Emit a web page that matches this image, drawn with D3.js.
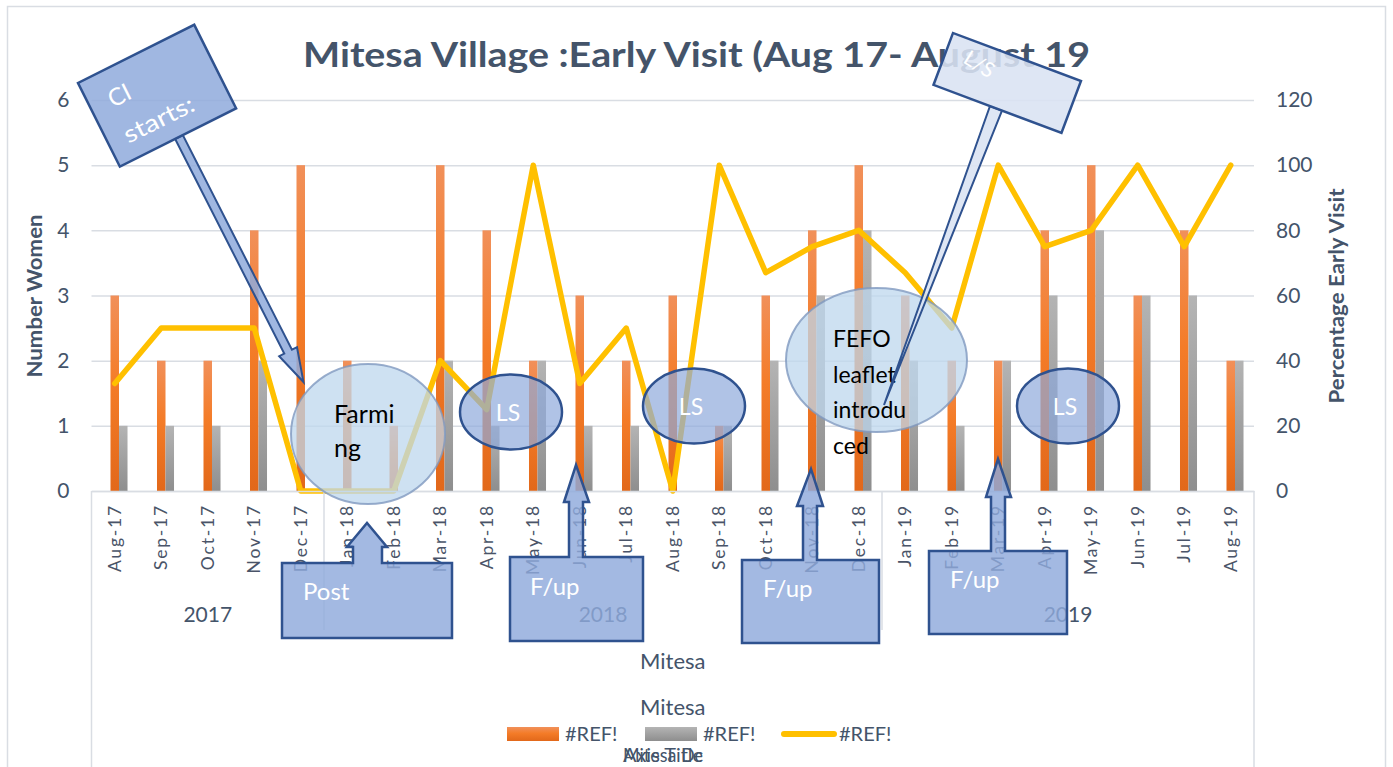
<!DOCTYPE html>
<html>
<head>
<meta charset="utf-8">
<script src="https://d3js.org/d3.v7.min.js"></script>
<style>
    body { margin: 0; background: #fff; }
    svg text { font-family: Lato, "Open Sans", sans-serif; }
</style>
</head>
<body>
<svg id="chart" width="1393" height="767"></svg>
<script>
    // chart values
    const months = ["Aug-17", "Sep-17", "Oct-17", "Nov-17", "Dec-17", "Jan-18", "Feb-18", "Mar-18", "Apr-18", "May-18", "Jun-18", "Jul-18", "Aug-18",
        "Sep-18", "Oct-18", "Nov-18", "Dec-18", "Jan-19", "Feb-19", "Mar-19", "Apr-19", "May-19", "Jun-19", "Jul-19", "Aug-19"];
    const orangeVals = [3, 2, 2, 4, 5, 2, 1, 5, 4, 2, 3, 2, 3, 1, 3, 4, 5, 3, 2, 2, 4, 5, 3, 4, 2];
    const grayVals = [1, 1, 1, 2, 0, 0, 0, 2, 1, 2, 1, 1, 0, 1, 2, 3, 4, 2, 1, 2, 3, 4, 3, 3, 2];
    const pctVals = [33, 50, 50, 50, 0, 0, 0, 40, 25, 100, 33, 50, 0, 100, 67, 75, 80, 67, 50, 100, 75, 80, 100, 75, 100];
    const leftTicks = [0, 1, 2, 3, 4, 5, 6];
    const rightTicks = [0, 20, 40, 60, 80, 100, 120];
    const yearLabels = ["2017", "2018", "2019"];
    const seriesNames = ["#REF!", "#REF!", "#REF!"];
    const groupLabels = ["Mitesa", "Mitesa"];

    const textCol = "#44546a";
    const gridCol = "#d9dde3";

    const svg = d3.select("#chart");
    const defs = svg.append("defs");

    // gradients for the columns
    const gO = defs.append("linearGradient").attr("id", "gOrange").attr("x1", 0).attr("y1", 0).attr("x2", 0).attr("y2", 1);
    gO.append("stop").attr("offset", "0%").attr("stop-color", "#f1905a");
    gO.append("stop").attr("offset", "45%").attr("stop-color", "#f47c28");
    gO.append("stop").attr("offset", "100%").attr("stop-color", "#e2681a");
    const gG = defs.append("linearGradient").attr("id", "gGray").attr("x1", 0).attr("y1", 0).attr("x2", 0).attr("y2", 1);
    gG.append("stop").attr("offset", "0%").attr("stop-color", "#b4b4b4");
    gG.append("stop").attr("offset", "100%").attr("stop-color", "#8e8e8e");

    // chart frame
    svg.append("rect").attr("x", 7.5).attr("y", 6.5).attr("width", 1378).attr("height", 800)
        .attr("fill", "#fff").attr("stroke", gridCol).attr("stroke-width", 1.5);

    const plotLeft = 91.5, plotRight = 1254, plotTop = 100, plotBottom = 491;

    const x = d3.scaleBand().domain(months).range([plotLeft, plotRight]);
    const yL = d3.scaleLinear().domain([0, 6]).range([plotBottom, plotTop]);
    const yR = d3.scaleLinear().domain([0, 120]).range([plotBottom, plotTop]);
    const bw = x.bandwidth();
    const barW = bw * 0.183;
    const cx = d => x(d) + bw / 2;

    // title
    svg.append("text").attr("x", 696.5).attr("y", 67).attr("text-anchor", "middle")
        .attr("font-size", 35).attr("font-weight", "bold").attr("fill", textCol)
        .attr("textLength", 787).attr("lengthAdjust", "spacingAndGlyphs")
        .text("Mitesa Village :Early Visit (Aug 17- August 19");

    // left axis + gridlines
    const axL = svg.append("g").attr("transform", "translate(" + plotLeft + ",0)")
        .call(d3.axisLeft(yL).tickValues(leftTicks).tickFormat(d3.format("d"))
            .tickSize(-(plotRight - plotLeft)).tickPadding(22));
    axL.select(".domain").remove();
    axL.selectAll("line").attr("stroke", gridCol).attr("stroke-width", 1.5);
    axL.selectAll("text").attr("font-size", 21).attr("fill", textCol).attr("font-family", "Lato");

    // right axis
    const axR = svg.append("g").attr("transform", "translate(" + plotRight + ",0)")
        .call(d3.axisRight(yR).tickValues(rightTicks).tickFormat(d3.format("d")).tickSize(0).tickPadding(22));
    axR.select(".domain").remove();
    axR.selectAll("text").attr("font-size", 21).attr("fill", textCol).attr("font-family", "Lato");

    // axis titles
    svg.append("text").attr("transform", "translate(42,296) rotate(-90)").attr("text-anchor", "middle")
        .attr("font-size", 20).attr("font-weight", "bold").attr("fill", textCol)
        .attr("textLength", 163).attr("lengthAdjust", "spacingAndGlyphs").text("Number Women");
    svg.append("text").attr("transform", "translate(1344,296) rotate(-90)").attr("text-anchor", "middle")
        .attr("font-size", 20).attr("font-weight", "bold").attr("fill", textCol)
        .attr("textLength", 215).attr("lengthAdjust", "spacingAndGlyphs").text("Percentage Early Visit");

    // columns
    svg.append("g").selectAll("rect").data(months).join("rect")
        .attr("x", d => cx(d) - barW / 2)
        .attr("y", (d, i) => yL(orangeVals[i]))
        .attr("width", barW)
        .attr("height", (d, i) => plotBottom - yL(orangeVals[i]))
        .attr("fill", "url(#gOrange)");
    svg.append("g").selectAll("rect").data(months).join("rect")
        .attr("x", d => cx(d) + barW / 2)
        .attr("y", (d, i) => yL(grayVals[i]))
        .attr("width", barW)
        .attr("height", (d, i) => plotBottom - yL(grayVals[i]))
        .attr("fill", "url(#gGray)");

    // percentage line
    svg.append("path").datum(months)
        .attr("d", d3.line().x(d => cx(d)).y((d, i) => yR(pctVals[i])))
        .attr("fill", "none").attr("stroke", "#ffc000").attr("stroke-width", 5.5)
        .attr("stroke-linejoin", "round").attr("stroke-linecap", "round");

    // category axis
    const axB = svg.append("g").attr("transform", "translate(0," + plotBottom + ")")
        .call(d3.axisBottom(x).tickSize(0).tickSizeOuter(0));
    axB.select(".domain").attr("stroke", gridCol).attr("stroke-width", 1.5);
    axB.selectAll("text")
        .attr("transform", "rotate(-90)")
        .attr("text-anchor", "end")
        .attr("x", -13).attr("y", 0).attr("dy", "0.35em")
        .attr("font-size", 17.5).attr("letter-spacing", "1.8px")
        .attr("fill", "#4a5468").attr("font-family", "Lato");

    // multi-level axis separators
    const sepG = svg.append("g").attr("stroke", gridCol).attr("stroke-width", 1.5);
    sepG.append("line").attr("x1", plotLeft).attr("x2", plotLeft).attr("y1", plotBottom).attr("y2", 767);
    sepG.append("line").attr("x1", plotRight).attr("x2", plotRight).attr("y1", plotBottom).attr("y2", 767);

    const yearSpans = yearLabels.map(yl => {
        const idx = months.map((m, i) => m.endsWith(yl.slice(2)) ? i : -1).filter(i => i >= 0);
        return { label: yl, x0: x(months[idx[0]]), x1: x(months[idx[idx.length - 1]]) + bw };
    });
    yearSpans.slice(1).forEach(s => {
        sepG.append("line").attr("x1", s.x0).attr("x2", s.x0).attr("y1", plotBottom).attr("y2", 630);
    });
    svg.append("g").selectAll("text").data(yearSpans).join("text")
        .attr("x", d => (d.x0 + d.x1) / 2).attr("y", 622).attr("text-anchor", "middle")
        .attr("font-size", 21).attr("fill", textCol).text(d => d.label);

    svg.append("g").selectAll("text").data(groupLabels).join("text")
        .attr("x", (plotLeft + plotRight) / 2).attr("y", (d, i) => 669 + i * 46)
        .attr("text-anchor", "middle").attr("font-size", 22).attr("fill", textCol).text(d => d);

    // legend
    const legX = [507, 645, 781];
    const lg = svg.append("g");
    seriesNames.forEach((n, i) => {
        if (i === 0) lg.append("rect").attr("x", legX[i]).attr("y", 727).attr("width", 52).attr("height", 14).attr("fill", "url(#gOrange)");
        if (i === 1) lg.append("rect").attr("x", legX[i]).attr("y", 727).attr("width", 52).attr("height", 14).attr("fill", "url(#gGray)");
        if (i === 2) lg.append("line").attr("x1", legX[i] + 3).attr("x2", legX[i] + 53).attr("y1", 734).attr("y2", 734)
            .attr("stroke", "#ffc000").attr("stroke-width", 6).attr("stroke-linecap", "round");
        lg.append("text").attr("x", legX[i] + 58).attr("y", 741).attr("font-size", 20).attr("fill", textCol).text(n);
    });

    // two axis titles drawn on top of each other, as in the source chart
    svg.append("text").attr("x", 663).attr("y", 762).attr("text-anchor", "middle").attr("font-size", 20)
        .attr("fill", textCol).attr("textLength", 80).attr("lengthAdjust", "spacingAndGlyphs").text("Axis Title");
    svg.append("text").attr("x", 663).attr("y", 762).attr("text-anchor", "middle").attr("font-size", 20)
        .attr("fill", textCol).attr("textLength", 80).attr("lengthAdjust", "spacingAndGlyphs").text("Mitesa Dc");

    // ---- drawn-on annotations ----
    const shapeFill = "#8faadc", shapeStroke = "#2f528f";
    const ann = svg.append("g");

    // Farming bubble
    ann.append("ellipse").attr("cx", 368).attr("cy", 434).attr("rx", 77).attr("ry", 70)
        .attr("fill", "#bdd7ee").attr("fill-opacity", 0.75).attr("stroke", "#7f98bf").attr("stroke-width", 2).attr("stroke-opacity", 0.8);
    ann.append("text").attr("x", 334).attr("y", 423).attr("font-size", 25).attr("fill", "#000").text("Farmi");
    ann.append("text").attr("x", 334).attr("y", 457).attr("font-size", 25).attr("fill", "#000").text("ng");

    // LS ellipses
    [[511, 412], [694, 406], [1068, 406]].forEach(p => {
        ann.append("ellipse").attr("cx", p[0]).attr("cy", p[1]).attr("rx", 51).attr("ry", 37.5)
            .attr("fill", shapeFill).attr("fill-opacity", 0.7).attr("stroke", shapeStroke).attr("stroke-width", 2.5);
        ann.append("text").attr("x", p[0] - 3).attr("y", p[1] + 9).attr("text-anchor", "middle")
            .attr("font-size", 23).attr("fill", "#fff").text("LS");
    });

    // FEFO bubble
    ann.append("ellipse").attr("cx", 876.5).attr("cy", 360).attr("rx", 90.5).attr("ry", 72)
        .attr("fill", "#bdd7ee").attr("fill-opacity", 0.75).attr("stroke", "#7f98bf").attr("stroke-width", 2).attr("stroke-opacity", 0.8);
    ["FEFO", "leaflet", "introdu", "ced"].forEach((t, i) => {
        ann.append("text").attr("x", 833).attr("y", 347 + i * 35.5).attr("font-size", 23).attr("fill", "#000").text(t);
    });

    // CI starts callout with arrow
    function arrowPts(s, t, shaft, headLen, headHalf) {
        const dx = t[0] - s[0], dy = t[1] - s[1], L = Math.hypot(dx, dy);
        const ux = dx / L, uy = dy / L, px = -uy, py = ux;
        const h = [t[0] - ux * headLen, t[1] - uy * headLen];
        return [
            [s[0] + px * shaft, s[1] + py * shaft], [h[0] + px * shaft, h[1] + py * shaft],
            [h[0] + px * headHalf, h[1] + py * headHalf], t,
            [h[0] - px * headHalf, h[1] - py * headHalf], [h[0] - px * shaft, h[1] - py * shaft],
            [s[0] - px * shaft, s[1] - py * shaft]
        ];
    }
    ann.append("polygon").attr("points", arrowPts([179, 137], [303.5, 382], 4.3, 34, 10).join(" "))
        .attr("fill", shapeFill).attr("fill-opacity", 0.85).attr("stroke", shapeStroke).attr("stroke-width", 2);
    const ci = ann.append("g").attr("transform", "translate(78,83) rotate(-26.6)");
    ci.append("rect").attr("width", 130).attr("height", 93.5)
        .attr("fill", shapeFill).attr("fill-opacity", 0.85).attr("stroke", shapeStroke).attr("stroke-width", 2.5);
    ci.append("text").attr("x", 20).attr("y", 38).attr("font-size", 24).attr("fill", "#fff").text("CI");
    ci.append("text").attr("x", 18).attr("y", 77).attr("font-size", 24).attr("fill", "#fff")
        .attr("textLength", 76).attr("lengthAdjust", "spacingAndGlyphs").text("starts:");

    // L/S callout
    ann.append("polygon").attr("points", [[990, 106], [1002, 110.5], [884, 405]].join(" "))
        .attr("fill", "#dae3f3").attr("fill-opacity", 0.9).attr("stroke", shapeStroke).attr("stroke-width", 2);
    const ls = ann.append("g").attr("transform", "translate(953,33) rotate(20.6)");
    ls.append("rect").attr("width", 136.7).attr("height", 55.4)
        .attr("fill", "#dae3f3").attr("fill-opacity", 0.88).attr("stroke", shapeStroke).attr("stroke-width", 2.5);
    ann.append("text").attr("transform", "translate(962,62) rotate(32)").attr("font-size", 21)
        .attr("fill", "#fff").text("L/S");

    // up-arrow callouts under the axis
    const ups = [
        { t: "Post", box: [282, 563, 452, 638], sh: [353, 382], head: [547, 347, 387], tip: [367, 523], tx: 303, ty: 600 },
        { t: "F/up", box: [510, 557, 643, 641], sh: [569, 583], head: [502, 564, 589], tip: [576, 465], tx: 530, ty: 595 },
        { t: "F/up", box: [742, 560, 879, 643], sh: [803, 817], head: [506, 797, 823], tip: [811, 469], tx: 763, ty: 597 },
        { t: "F/up", box: [929, 551, 1067, 634], sh: [991, 1005], head: [497, 986, 1011], tip: [998, 459], tx: 950, ty: 588 }
    ];
    ups.forEach(u => {
        const b = u.box;
        const pts = [[b[0], b[1]], [u.sh[0], b[1]], [u.sh[0], u.head[0]], [u.head[1], u.head[0]], u.tip,
            [u.head[2], u.head[0]], [u.sh[1], u.head[0]], [u.sh[1], b[1]], [b[2], b[1]], [b[2], b[3]], [b[0], b[3]]];
        ann.append("polygon").attr("points", pts.join(" "))
            .attr("fill", shapeFill).attr("fill-opacity", 0.82).attr("stroke", shapeStroke).attr("stroke-width", 2.5);
        ann.append("text").attr("x", u.tx).attr("y", u.ty).attr("font-size", 24).attr("fill", "#fff").text(u.t);
    });
</script>
</body>
</html>
